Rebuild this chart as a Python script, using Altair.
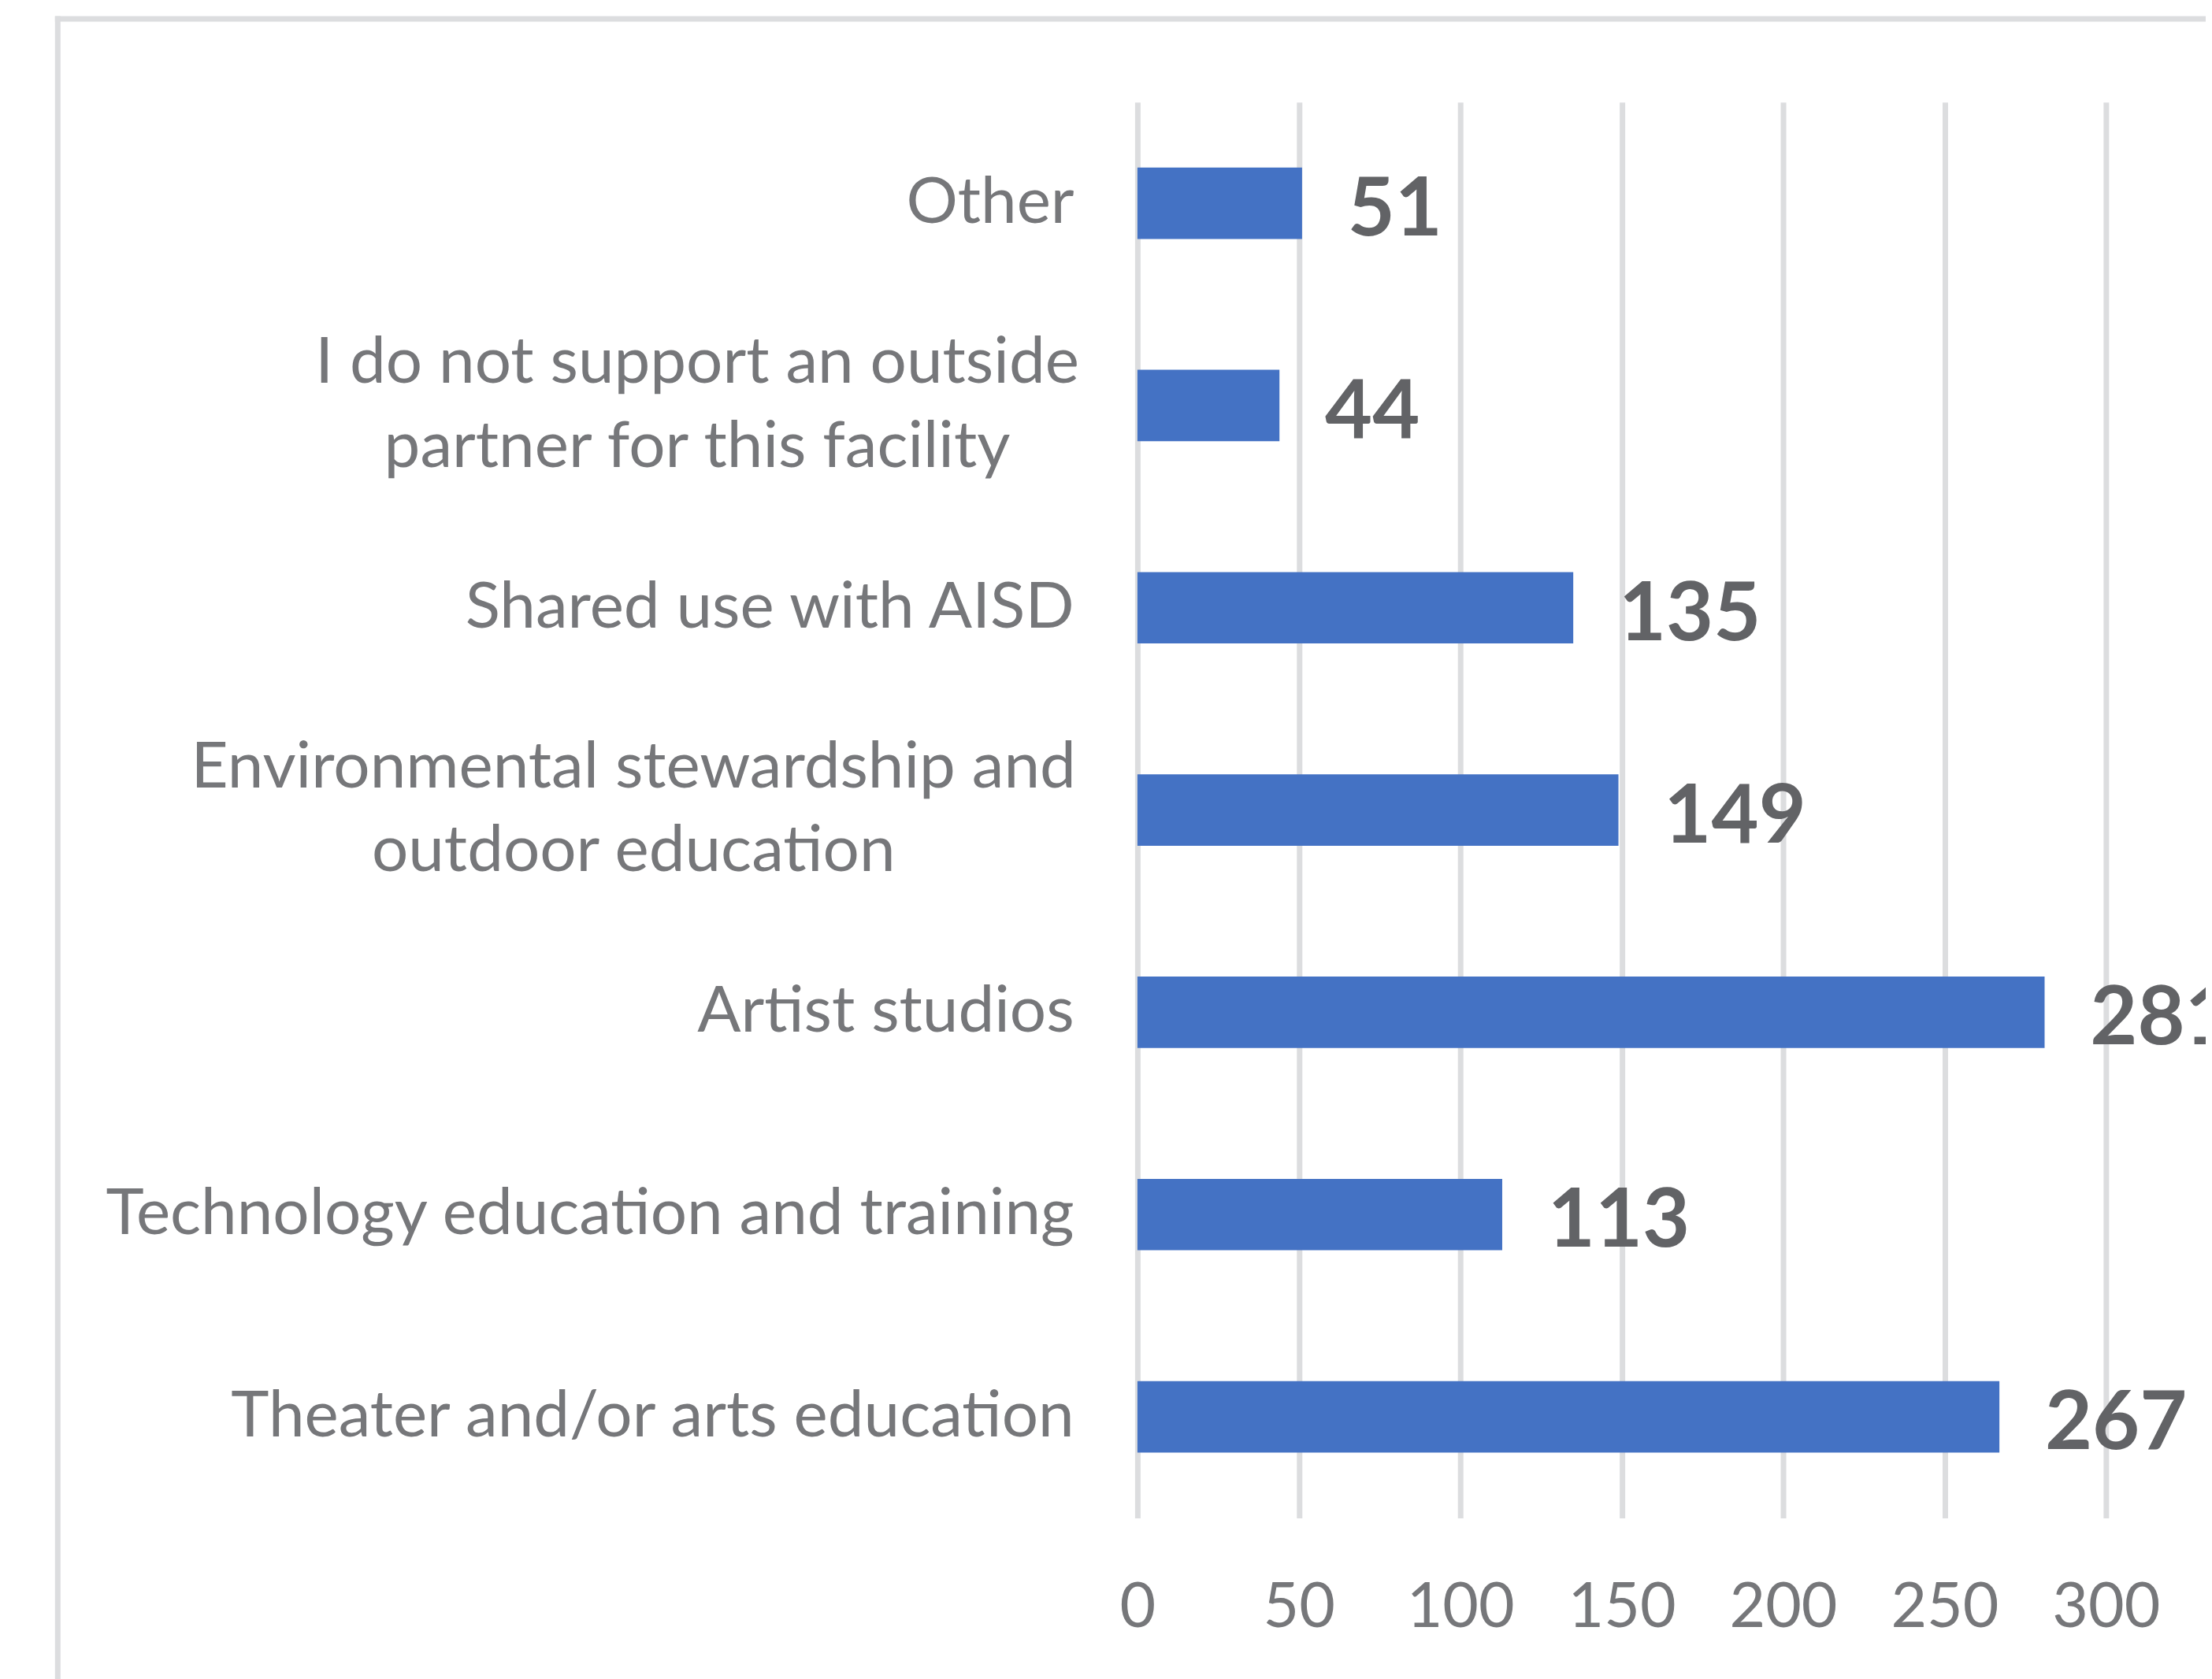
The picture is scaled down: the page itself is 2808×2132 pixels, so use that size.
import altair as alt
import pandas as pd

# ---- data ----
categories = [
    "Other",
    "I do not support an outside|partner for this facility",
    "Shared use with AISD",
    "Environmental stewardship and|outdoor education",
    "Artist studios",
    "Technology education and training",
    "Theater and/or arts education",
]
values = [51, 44, 135, 149, 281, 113, 267]
x_ticks = [0, 50, 100, 150, 200, 250, 300]

df = pd.DataFrame({"category": categories, "value": values})

FONT = "Lato"
LABEL_GRAY = "#76777A"
VALUE_GRAY = "#626366"
GRID_GRAY = "#DCDDDF"
BAR_BLUE = "#4472C4"

y_enc = alt.Y(
    "category:N",
    sort=categories,
    title=None,
    scale=alt.Scale(paddingInner=0.647, paddingOuter=0.3235),
    axis=alt.Axis(
        domain=False,
        ticks=False,
        tickSize=0,
        grid=False,
        labelExpr="split(datum.value, '|')",
        labelFont=FONT,
        labelFontSize=82,
        labelColor=LABEL_GRAY,
        labelLimit=3000,
        labelLineHeight=107,
        labelBaseline="middle",
        labelOverlap=False,
        labelAlign={
            "condition": {"test": "indexof(datum.value, '|') >= 0", "value": "center"},
            "value": "right",
        },
        labelOffset={
            "condition": {"test": "indexof(datum.value, '|') >= 0", "value": -54},
            "value": 0,
        },
        labelPadding={
            "condition": [
                {"test": "indexof(datum.value, 'I do not') == 0", "value": 561},
                {"test": "indexof(datum.value, 'Environmental') == 0", "value": 642},
            ],
            "value": 81,
        },
    ),
)

x_enc = alt.X(
    "value:Q",
    title=None,
    scale=alt.Scale(domain=[0, 300], nice=False, zero=True),
    axis=alt.Axis(
        values=x_ticks,
        domain=False,
        ticks=False,
        tickSize=0,
        grid=True,
        gridColor=GRID_GRAY,
        gridWidth=7,
        labelFont=FONT,
        labelFontSize=79,
        labelColor=LABEL_GRAY,
        labelPadding=76,
        labelFlush=False,
        labelOverlap=False,
        labelBaseline="top",
    ),
)

base = alt.Chart(df)

bars = base.mark_bar(color=BAR_BLUE).encode(y=y_enc, x=x_enc)

labels = base.mark_text(
    align="left",
    baseline="middle",
    dx=58,
    dy=10,
    font=FONT,
    fontSize=104,
    fontWeight="bold",
    color=VALUE_GRAY,
).encode(y=alt.Y("category:N", sort=categories), x="value:Q", text="value:Q")

frame_src = alt.Chart(pd.DataFrame({"k": [0]}))
top_border = frame_src.mark_rule(color=GRID_GRAY, strokeWidth=7, strokeCap="square").encode(
    x=alt.value(-1374.5), x2=alt.value(1500), y=alt.value(-106), y2=alt.value(-106)
)
left_border = frame_src.mark_rule(color=GRID_GRAY, strokeWidth=7, strokeCap="square").encode(
    x=alt.value(-1374.5), x2=alt.value(-1374.5), y=alt.value(-106), y2=alt.value(2200)
)

chart = (
    alt.layer(bars, labels, top_border, left_border)
    .properties(
        width=1233,
        height=1803,
        autosize=alt.AutoSizeParams(type="none"),
        padding={"left": 1440, "top": 119, "right": 127, "bottom": 202},
        background="white",
    )
    .configure_view(strokeWidth=0)
)

chart.save("out.html", embed_options={"renderer": "svg", "actions": False})
